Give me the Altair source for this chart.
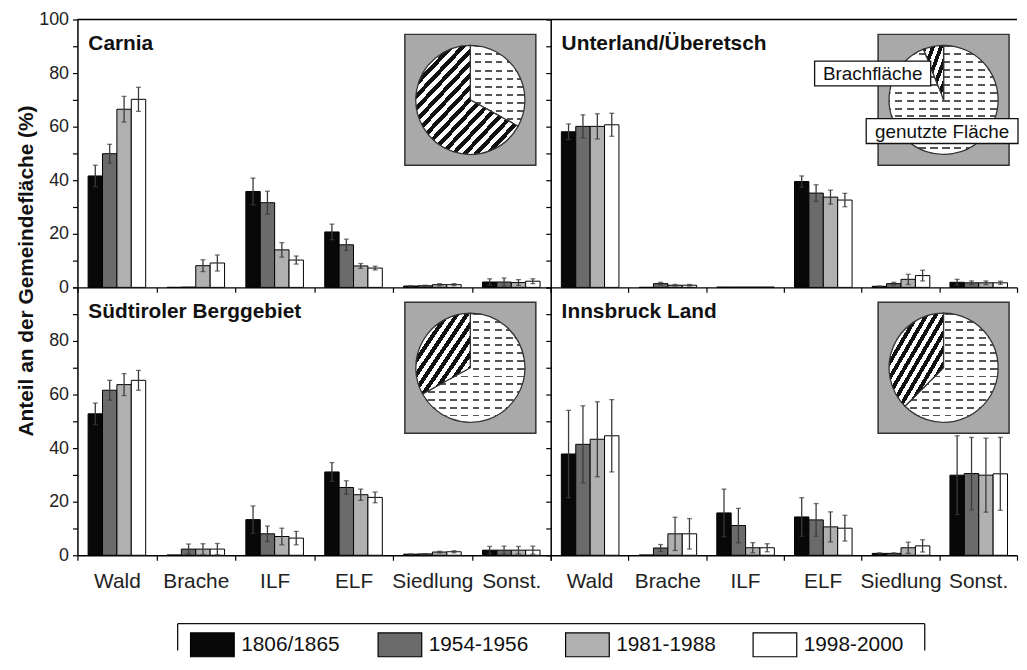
import altair as alt
import pandas as pd

categories = ["Wald", "Brache", "ILF", "ELF", "Siedlung", "Sonst."]
periods = ["1806/1865", "1954-1956", "1981-1988", "1998-2000"]
period_colors = ["#080808", "#6b6b6b", "#b0b0b0", "#ffffff"]
regions = ["Carnia", "Unterland/Überetsch", "Südtiroler Berggebiet", "Innsbruck Land"]
y_ticks = [0, 10, 20, 30, 40, 50, 60, 70, 80, 90, 100]
y_title = "Anteil an der Gemeindefläche (%)"

# rows = categories, columns = periods
carnia_mean = [
    [41.6, 49.9, 66.5, 70.2],
    [0.0, 0.1, 8.1, 9.1],
    [35.8, 31.6, 14.0, 10.2],
    [20.7, 15.9, 8.0, 7.2],
    [0.5, 0.6, 1.0, 1.0],
    [2.0, 2.0, 1.8, 2.3],
]
carnia_err = [
    [4.0, 3.5, 4.8, 4.5],
    [0.0, 0.0, 2.2, 3.0],
    [5.0, 4.3, 2.7, 1.5],
    [2.9, 2.1, 0.9, 0.7],
    [0.1, 0.2, 0.4, 0.4],
    [1.2, 1.5, 1.1, 0.9],
]
unterland_mean = [
    [58.1, 60.1, 60.1, 60.7],
    [0.0, 1.4, 0.8, 0.8],
    [0.1, 0.1, 0.1, 0.1],
    [39.5, 35.2, 33.7, 32.6],
    [0.4, 1.4, 3.0, 4.4],
    [1.9, 1.7, 1.7, 1.7],
]
unterland_err = [
    [2.9, 4.3, 4.7, 4.3],
    [0.0, 0.5, 0.3, 0.3],
    [0.0, 0.0, 0.0, 0.0],
    [2.1, 3.1, 2.6, 2.5],
    [0.1, 0.5, 1.9, 2.0],
    [1.1, 0.7, 0.7, 0.6],
]
suedtirol_mean = [
    [52.8, 61.6, 63.7, 65.3],
    [0.1, 2.3, 2.3, 2.3],
    [13.3, 8.0, 7.0, 6.4],
    [31.1, 25.3, 22.6, 21.6],
    [0.4, 0.5, 1.2, 1.3],
    [1.9, 1.9, 1.9, 1.9],
]
suedtirol_err = [
    [4.0, 3.7, 4.1, 3.7],
    [0.0, 1.9, 2.0, 2.1],
    [5.1, 2.9, 3.1, 2.5],
    [3.5, 2.5, 2.1, 2.0],
    [0.1, 0.1, 0.3, 0.4],
    [1.4, 1.5, 1.4, 1.5],
]
innsbruck_mean = [
    [37.8, 41.4, 43.3, 44.6],
    [0.1, 2.7, 8.0, 8.0],
    [15.8, 11.1, 2.8, 2.8],
    [14.3, 13.2, 10.6, 10.1],
    [0.7, 0.7, 2.8, 3.5],
    [29.9, 30.5, 29.9, 30.4],
]
innsbruck_err = [
    [16.3, 14.4, 14.0, 13.5],
    [0.0, 1.3, 6.2, 5.7],
    [8.9, 6.4, 1.9, 1.5],
    [7.2, 6.1, 5.6, 4.8],
    [0.2, 0.2, 2.1, 2.3],
    [14.7, 13.5, 13.8, 13.6],
]

# pie insets: share of Brachfläche (%)
pie_parts = ["genutzte Fläche", "Brachfläche"]
brache_share = [67, 6, 33, 37.5]

SANS = "Liberation Sans, Arial, sans-serif"

# pattern styling (stripe counts per inset)
hatch_n = [18, 5, 11, 12]
dash_rows = [10, 14, 14, 14]
dash_cols = [5, 9, 9, 8]


def stripes(n, on_frac, on_color, off_color):
    stops = []
    for i in range(n):
        a = i / n
        b = min((i + on_frac) / n, 1.0)
        c = min((i + 1) / n, 1.0)
        stops += [
            {"offset": a, "color": on_color},
            {"offset": b, "color": on_color},
            {"offset": b, "color": off_color},
            {"offset": c, "color": off_color},
        ]
    return stops


def panel(idx, means, errs, top, left, width, height=270):
    rows = []
    for ci, cat in enumerate(categories):
        for pi, per in enumerate(periods):
            rows.append({"cat": cat, "period": per,
                         "mean": means[ci][pi], "err": errs[ci][pi]})
    df = pd.DataFrame(rows)

    x_axis = alt.Axis(title=None, labels=not top, tickBand="extent", labelAngle=0,
                      labelFont=SANS, labelFontSize=21, labelPadding=10,
                      labelColor="#222", labelOverlap=False, labelFlush=False)
    if left:
        expr = ("datum.value % 20 == 0 ? datum.label : ''" if top else
                "datum.value % 20 == 0 && datum.value < 100 ? datum.label : ''")
        if top:
            y_axis = alt.Axis(values=y_ticks, labelExpr=expr, title=y_title,
                              labelFont=SANS, labelFontSize=18, labelColor="#222",
                              labelPadding=4, titleX=-51, titleY=253, titleAngle=270,
                              titleAlign="center", titleBaseline="middle",
                              titleFont=SANS, titleFontSize=21, titleFontWeight="bold",
                              titleColor="#111")
        else:
            y_axis = alt.Axis(values=y_ticks, labelExpr=expr, title=None,
                              labelFont=SANS, labelFontSize=18, labelColor="#222",
                              labelPadding=4)
    else:
        y_axis = alt.Axis(values=y_ticks, labels=False, title=None)

    xenc = alt.X("cat:N", sort=categories,
                 scale=alt.Scale(domain=categories, paddingInner=0, paddingOuter=0),
                 axis=x_axis)
    xo = alt.XOffset("period:N", sort=periods,
                     scale=alt.Scale(domain=periods, paddingInner=0, paddingOuter=0.74))
    yscale = alt.Scale(domain=[0, 100], nice=False)

    legend = alt.Legend(title=None, orient="none", legendX=113, legendY=617,
                        direction="horizontal", columns=4, gridAlign="all",
                        columnPadding=34, symbolType="M-1,-1L2.667,-1L2.667,1L-1,1Z",
                        symbolSize=576, symbolStrokeColor="black", symbolStrokeWidth=1.2,
                        symbolOpacity=1, labelFont=SANS, labelFontSize=21,
                        labelOffset=26, labelColor="#111", padding=0)

    bars = alt.Chart(df).mark_bar(stroke="black", strokeWidth=1).encode(
        x=xenc, xOffset=xo,
        y=alt.Y("mean:Q", scale=yscale, axis=y_axis),
        fill=alt.Fill("period:N", sort=periods,
                      scale=alt.Scale(domain=periods, range=period_colors),
                      legend=legend),
    )
    err_base = alt.Chart(df).transform_filter("datum.err > 0").transform_calculate(
        lo="datum.mean - datum.err", hi="datum.mean + datum.err")
    err_rule = err_base.mark_rule(color="#3a3a3a", strokeWidth=1.3).encode(
        x=xenc, xOffset=xo, y=alt.Y("lo:Q", scale=yscale, axis=y_axis), y2="hi:Q")
    cap_hi = err_base.mark_tick(color="#3a3a3a", thickness=1.3, size=5).encode(
        x=xenc, xOffset=xo, y=alt.Y("hi:Q", scale=yscale, axis=y_axis))
    cap_lo = err_base.mark_tick(color="#3a3a3a", thickness=1.3, size=5).encode(
        x=xenc, xOffset=xo, y=alt.Y("lo:Q", scale=yscale, axis=y_axis))

    layers = [bars, err_rule, cap_hi, cap_lo]

    if top:
        border = alt.Chart(pd.DataFrame({"v": [100]})).mark_rule(
            color="black", strokeWidth=1.5).encode(
            y=alt.Y("v:Q", scale=yscale, axis=y_axis))
        layers.append(border)

    # panel title
    ttl = alt.Chart(pd.DataFrame({"t": [regions[idx]]})).mark_text(
        align="left", baseline="alphabetic", font=SANS, fontSize=21,
        fontWeight="bold", color="#111").encode(
        text="t:N", x=alt.value(11), y=alt.value(31))
    layers.append(ttl)

    # pie inset
    box = alt.Chart(pd.DataFrame({"t": [regions[idx]]})).mark_rect(
        fill="#a9a9a9", stroke="#333", strokeWidth=1.5).encode(
        x=alt.value(330), x2=alt.value(462), y=alt.value(15), y2=alt.value(147))
    layers.append(box)

    pie_df = pd.DataFrame({"typ": pie_parts,
                           "share": [100 - brache_share[idx], brache_share[idx]],
                           "ord": [0, 1]})
    pie_base = alt.Chart(pie_df).transform_stack(
        stack="share", groupby=[], as_=["t0", "t1"],
        sort=[alt.SortField("ord", order="ascending")])
    theta = alt.Theta("t0:Q", scale=alt.Scale(domain=[0, 100], range=[0, 6.283185307179586]))
    cx, cy, r = 396, 81, 55

    hatch = {"gradient": "linear", "x1": 0, "y1": 0, "x2": 1, "y2": 1,
             "stops": stripes(hatch_n[idx], 0.5, "#111111", "#ffffff")}
    dash = {"gradient": "linear", "x1": 0, "y1": 0, "x2": 0, "y2": 1,
            "stops": stripes(dash_rows[idx], 0.25, "#555555", "#ffffff")}
    mask = {"gradient": "linear", "x1": 0, "y1": 0, "x2": 1, "y2": 0,
            "stops": stripes(dash_cols[idx], 0.4, "#ffffff", "rgba(255,255,255,0)")}

    used = pie_base.transform_filter("datum.typ == 'genutzte Fläche'")
    fallow = pie_base.transform_filter("datum.typ == 'Brachfläche'")
    pie_used = used.mark_arc(radius=r, fill=dash, stroke="#333", strokeWidth=1.3).encode(
        theta=theta, theta2="t1:Q", x=alt.value(cx), y=alt.value(cy))
    pie_mask = used.mark_arc(radius=r - 1, fill=mask).encode(
        theta=theta, theta2="t1:Q", x=alt.value(cx), y=alt.value(cy))
    pie_fallow = fallow.mark_arc(radius=r, fill=hatch, stroke="#333", strokeWidth=1.3).encode(
        theta=theta, theta2="t1:Q", x=alt.value(cx), y=alt.value(cy))
    layers += [pie_used, pie_mask, pie_fallow]

    if idx == 1:
        lab_b = alt.Chart(pd.DataFrame({"t": [pie_parts[1]]}))
        lab_g = alt.Chart(pd.DataFrame({"t": [pie_parts[0]]}))
        layers += [
            lab_b.mark_rect(fill="white", stroke="#111", strokeWidth=1.3).encode(
                x=alt.value(266), x2=alt.value(383), y=alt.value(42), y2=alt.value(67)),
            lab_b.mark_text(font=SANS, fontSize=19, color="#111", align="center",
                            baseline="middle").encode(
                text="t:N", x=alt.value(324.5), y=alt.value(55)),
            lab_g.mark_rect(fill="white", stroke="#111", strokeWidth=1.3).encode(
                x=alt.value(318), x2=alt.value(471), y=alt.value(100), y2=alt.value(125)),
            lab_g.mark_text(font=SANS, fontSize=19, color="#111", align="center",
                            baseline="middle").encode(
                text="t:N", x=alt.value(394.5), y=alt.value(113)),
        ]

    if idx == 2:
        fr = alt.Chart(pd.DataFrame({"t": ["legend"]}))
        layers += [
            fr.mark_rule(color="#111", strokeWidth=1.3).encode(
                x=alt.value(101), x2=alt.value(854), y=alt.value(339)),
            fr.mark_rule(color="#111", strokeWidth=1.3).encode(
                x=alt.value(101), y=alt.value(339), y2=alt.value(366)),
            fr.mark_rule(color="#111", strokeWidth=1.3).encode(
                x=alt.value(854), y=alt.value(339), y2=alt.value(366)),
        ]

    return alt.layer(*layers).properties(width=width, height=height)


p0 = panel(0, carnia_mean, carnia_err, True, True, 477)
p1 = panel(1, unterland_mean, unterland_err, True, False, 470)
p2 = panel(2, suedtirol_mean, suedtirol_err, False, True, 477)
p3 = panel(3, innsbruck_mean, innsbruck_err, False, False, 470)

chart = alt.concat(p0, p1, p2, p3, columns=2, spacing=0, bounds="flush").resolve_scale(
    fill="shared"
).properties(
    padding={"left": 7, "top": 0, "right": 0, "bottom": 0}
).configure_view(stroke=None).configure_axis(
    domainColor="black", domainWidth=1.5, tickColor="black", tickWidth=1.2,
    tickSize=5, grid=False
)

chart.save("out.html", embed_options={"renderer": "svg", "actions": False})
